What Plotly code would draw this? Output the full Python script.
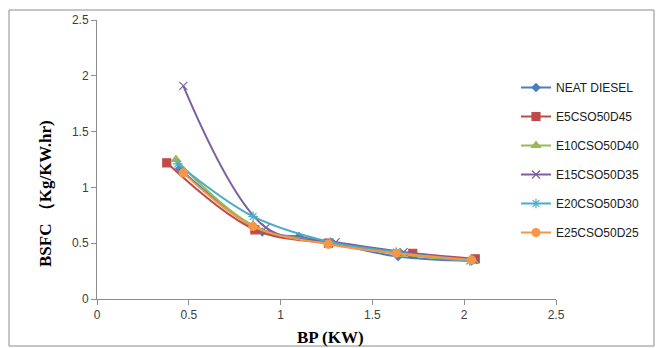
import plotly.graph_objects as go

names = ["NEAT DIESEL", "E5CSO50D45", "E10CSO50D40", "E15CSO50D35", "E20CSO50D30", "E25CSO50D25"]
bp_neat = [0.45, 0.90, 1.10, 1.28, 1.64, 2.04]
bsfc_neat = [1.17, 0.60, 0.56, 0.50, 0.38, 0.34]
bp_e5 = [0.38, 0.86, 1.26, 1.72, 2.06]
bsfc_e5 = [1.22, 0.62, 0.50, 0.41, 0.36]
bp_e10 = [0.43, 0.85, 1.27, 1.65, 2.05]
bsfc_e10 = [1.25, 0.66, 0.50, 0.40, 0.34]
bp_e15 = [0.47, 0.92, 1.30, 1.67, 2.05]
bsfc_e15 = [1.91, 0.64, 0.51, 0.42, 0.35]
bp_e20 = [0.44, 0.85, 1.27, 1.63, 2.03]
bsfc_e20 = [1.21, 0.74, 0.51, 0.42, 0.34]
bp_e25 = [0.47, 0.85, 1.26, 1.63, 2.04]
bsfc_e25 = [1.13, 0.65, 0.49, 0.41, 0.35]
x_ticks = [0, 0.5, 1, 1.5, 2, 2.5]
y_ticks = [0, 0.5, 1, 1.5, 2, 2.5]

series = [
    (bp_neat, bsfc_neat, "#4A7EBB", "diamond", 6),
    (bp_e5, bsfc_e5, "#BE4B48", "square", 8),
    (bp_e10, bsfc_e10, "#98B954", "triangle-up", 8),
    (bp_e15, bsfc_e15, "#7D60A0", "x-thin-open", 8),
    (bp_e20, bsfc_e20, "#4BACC6", "asterisk-open", 8),
    (bp_e25, bsfc_e25, "#F79646", "circle", 8),
]

fig = go.Figure()
for i, (xs, ys, col, sym, sz) in enumerate(series):
    fig.add_trace(go.Scatter(
        x=xs, y=ys, name=names[i], mode="lines+markers",
        line=dict(color=col, width=2, shape="spline", smoothing=1.0),
        marker=dict(color=col, symbol=sym, size=sz, line=dict(color=col, width=1.2)),
        legendgroup=str(i),
    ))

W, H = 660, 348
L, R, T, B = 97, 556, 20, 299
pw, ph = R - L, B - T
def px(x): return (x - L) / pw
def py(y): return (B - y) / ph

axis_common = dict(showline=True, linecolor="#8C8C8C", linewidth=1, ticks="outside",
                   ticklen=5, tickcolor="#8C8C8C", showgrid=False, zeroline=False,
                   tickfont=dict(family="Liberation Sans", size=12, color="#404040"))
fig.update_layout(
    width=W, height=H,
    margin=dict(l=L, r=W - R, t=T, b=H - B),
    paper_bgcolor="white", plot_bgcolor="white",
    xaxis=dict(range=[0, 2.5], tickvals=x_ticks, ticktext=[str(v) for v in x_ticks], **axis_common),
    yaxis=dict(range=[0, 2.5], tickvals=y_ticks, ticktext=[str(v) for v in y_ticks], **axis_common),
    legend=dict(x=px(516), y=py(73), xanchor="left", yanchor="top",
                font=dict(family="Liberation Sans", size=12, color="#202020"),
                bgcolor="rgba(0,0,0,0)", tracegroupgap=10, itemwidth=30),
    showlegend=True,
    annotations=[
        dict(text="<b>BSFC （Kg/KW.hr)</b>", x=px(45), y=py(194), xref="paper", yref="paper",
             textangle=-90, showarrow=False, xanchor="center", yanchor="middle",
             font=dict(family="Liberation Serif", size=17, color="#000000")),
        dict(text="<b>BP (KW)</b>", x=px(330), y=py(337), xref="paper", yref="paper",
             showarrow=False, xanchor="center", yanchor="middle",
             font=dict(family="Liberation Serif", size=17, color="#000000")),
    ],
    shapes=[dict(type="rect", xref="paper", yref="paper", x0=px(9), x1=px(654),
                 y0=py(346), y1=py(10), line=dict(color="#8C8C8C", width=1), layer="below")],
)
fig.write_html("out.html")
